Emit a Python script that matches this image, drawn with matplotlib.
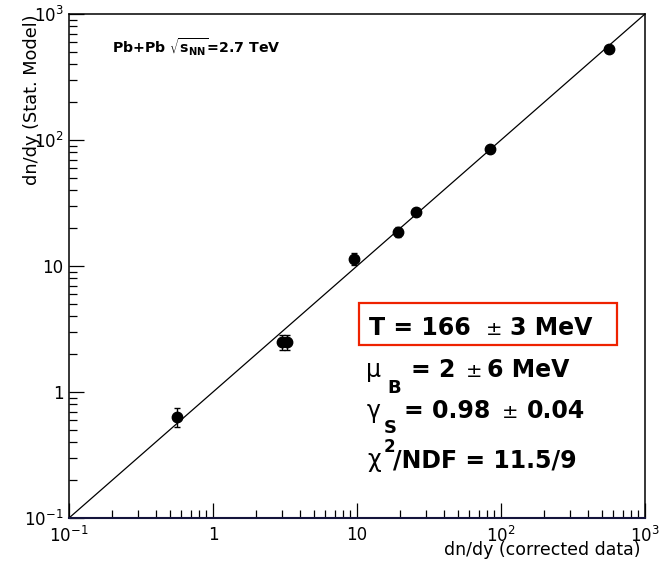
import matplotlib
matplotlib.use("Agg")
import matplotlib.pyplot as plt
from matplotlib.ticker import FixedLocator, FixedFormatter, NullFormatter
from matplotlib.patches import Rectangle

# ---------------- data ----------------
data_x = [0.565, 3.03, 3.29, 9.47, 19.2, 25.6, 83.7, 560.0]
model_y = [0.634, 2.49, 2.49, 11.4, 18.6, 26.9, 84.9, 525.0]
model_err = [0.11, 0.32, 0.32, 1.2, 1.7, 1.5, 2.0, 10.0]
line_x = [0.1, 1000.0]
major_ticks = [0.1, 1, 10, 100, 1000]
tick_labels = [r"$10^{-1}$", "1", "10", r"$10^{2}$", r"$10^{3}$"]
minor_ticks = [m * d for d in [0.1, 1, 10, 100] for m in range(2, 10)]

plt.rcParams["font.family"] = ["DejaVu Sans"]
plt.rcParams["mathtext.fontset"] = "dejavusans"

W, H = 666, 563
fig = plt.figure(figsize=(W / 100, H / 100), dpi=100)
def px(x, y):
    return (x / W, 1 - y / H)

l, t, r, b = 69, 14, 645, 518
ax = fig.add_axes([l / W, 1 - b / H, (r - l) / W, (b - t) / H])
ax.set_xscale("log")
ax.set_yscale("log")
ax.set_xlim(0.1, 1000)
ax.set_ylim(0.1, 1000)

ax.plot(line_x, line_x, color="black", lw=0.9)
ax.errorbar(data_x, model_y, yerr=model_err, fmt="o", color="black",
            ms=7.5, elinewidth=1.0, capsize=2.5, capthick=1.0)

for a in (ax.xaxis, ax.yaxis):
    a.set_major_locator(FixedLocator(major_ticks))
    a.set_major_formatter(FixedFormatter(tick_labels))
    a.set_minor_locator(FixedLocator(minor_ticks))
    a.set_minor_formatter(NullFormatter())

ax.tick_params(axis="x", which="major", direction="in", length=11, width=0.9,
               labelsize=12, pad=6, top=False)
ax.tick_params(axis="x", which="minor", direction="in", length=5.5, width=0.9, top=False)
ax.tick_params(axis="y", which="major", direction="in", length=11, width=0.9,
               labelsize=12, pad=4, right=False)
ax.tick_params(axis="y", which="minor", direction="in", length=5.5, width=0.9, right=False)
for s in ax.spines.values():
    s.set_linewidth(1.1)
ax.spines["bottom"].set_color("#14143c")
ax.spines["bottom"].set_linewidth(1.5)

fig.text(*px(32, 14), "dn/dy (Stat. Model)", rotation=90, ha="center", va="top", fontsize=12.8)
fig.text(*px(641, 555), "dn/dy (corrected data)", ha="right", va="baseline", fontsize=12.5)

fig.text(*px(112, 53), r"Pb+Pb $\sqrt{\mathbf{s}_{\mathbf{NN}}}$=2.7 TeV", ha="left", va="baseline",
         fontsize=10.2, fontweight="bold")

# parameter box
x0, y0 = px(359, 345)
x1, y1 = px(617, 303)
fig.patches.append(Rectangle((x0, y0), x1 - x0, y1 - y0, transform=fig.transFigure,
                             fill=False, edgecolor="#ee2200", lw=1.6))

fs = 17
fp = 14
fsub = 13
fig.text(*px(369, 335), "T = 166", ha="left", va="baseline", fontsize=fs, fontweight="bold")
fig.text(*px(486, 335), "±", ha="left", va="baseline", fontsize=fp)
fig.text(*px(510, 335), "3 MeV", ha="left", va="baseline", fontsize=fs, fontweight="bold")

fig.text(*px(366, 377), "μ", ha="left", va="baseline", fontsize=fs)
fig.text(*px(387, 393), "B", ha="left", va="baseline", fontsize=fsub, fontweight="bold")
fig.text(*px(411, 377), "= 2", ha="left", va="baseline", fontsize=fs, fontweight="bold")
fig.text(*px(466, 377), "±", ha="left", va="baseline", fontsize=fp)
fig.text(*px(487, 377), "6 MeV", ha="left", va="baseline", fontsize=fs, fontweight="bold")

fig.text(*px(367, 418), "γ", ha="left", va="baseline", fontsize=fs)
fig.text(*px(384, 433), "S", ha="left", va="baseline", fontsize=fsub, fontweight="bold")
fig.text(*px(404, 418), "= 0.98", ha="left", va="baseline", fontsize=fs, fontweight="bold")
fig.text(*px(502, 418), "±", ha="left", va="baseline", fontsize=fp)
fig.text(*px(527, 418), "0.04", ha="left", va="baseline", fontsize=fs, fontweight="bold")

fig.text(*px(367, 467), "χ", ha="left", va="baseline", fontsize=fs)
fig.text(*px(384, 452), "2", ha="left", va="baseline", fontsize=fsub - 1, fontweight="bold")
fig.text(*px(393, 467), "/NDF = 11.5/9", ha="left", va="baseline", fontsize=fs, fontweight="bold")

fig.savefig("out.png", dpi=100)
